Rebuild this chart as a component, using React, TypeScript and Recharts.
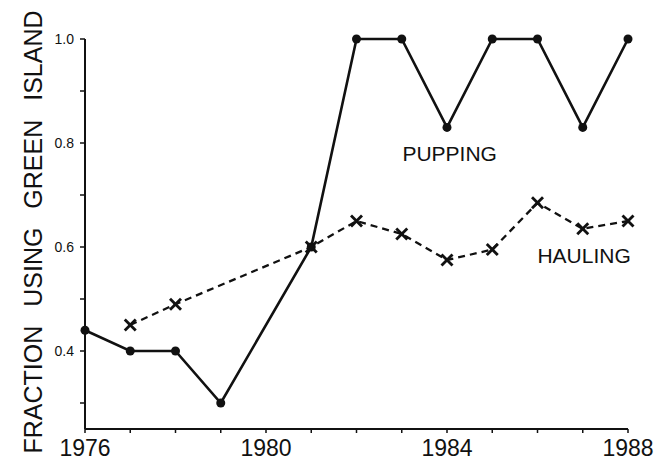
import { LineChart, Line, XAxis, YAxis, ReferenceDot } from "recharts";

const years = [1976, 1977, 1978, 1979, 1980, 1981, 1982, 1983, 1984, 1985, 1986, 1987, 1988];
const pupping = [0.44, 0.4, 0.4, 0.3, null, 0.6, 1.0, 1.0, 0.83, 1.0, 1.0, 0.83, 1.0];
const hauling = [null, 0.45, 0.49, null, null, 0.6, 0.65, 0.625, 0.575, 0.595, 0.685, 0.635, 0.65];
const yearLabels = [1976, 1980, 1984, 1988];
const fractionTicks = [0.3, 0.4, 0.5, 0.6, 0.7, 0.8, 0.9, 1.0];
const fractionLabels = [0.4, 0.6, 0.8, 1.0];

const data = years.map((year, i) => ({ year, pupping: pupping[i], hauling: hauling[i] }));

const FONT = '"Liberation Sans", Arial, Helvetica, sans-serif';
const INK = "#111";

function Cross(props: any) {
  const { cx, cy } = props;
  if (cx == null || cy == null || props.value == null) return null;
  const s = 5.5;
  return (
    <g stroke={INK} strokeWidth={2.8}>
      <line x1={cx - s} y1={cy - s} x2={cx + s} y2={cy + s} />
      <line x1={cx - s} y1={cy + s} x2={cx + s} y2={cy - s} />
    </g>
  );
}

function YTitle({ viewBox }: any) {
  const x = viewBox.x + viewBox.width - 52;
  const y = viewBox.y + viewBox.height / 2 - 2;
  return (
    <text
      x={x}
      y={y}
      transform={`rotate(-90, ${x}, ${y})`}
      textAnchor="middle"
      dominantBaseline="central"
      fontFamily={FONT}
      fontSize={25}
      fill={INK}
      style={{ wordSpacing: 12 }}
    >
      FRACTION USING GREEN ISLAND
    </text>
  );
}

export default function App() {
  return (
    <div style={{ position: "absolute", left: 0, top: 0, background: "#fff" }}>
      <LineChart width={669} height={460} data={data} margin={{ top: 39, right: 41, bottom: 1, left: 25 }}>
        <XAxis
          dataKey="year"
          type="number"
          domain={[1976, 1988]}
          ticks={years}
          interval={0}
          height={30}
          tickFormatter={(v: number) => (yearLabels.includes(v) ? String(v) : "")}
          tick={{ fontSize: 23, fontFamily: FONT, fill: INK }}
          tickSize={4}
          tickMargin={7}
          axisLine={{ stroke: INK, strokeWidth: 2 }}
          tickLine={{ stroke: INK, strokeWidth: 1.5 }}
        />
        <YAxis
          type="number"
          domain={[0.25, 1.0]}
          ticks={fractionTicks}
          interval={0}
          width={60}
          tickFormatter={(v: number) => (fractionLabels.some((f) => Math.abs(f - v) < 1e-6) ? v.toFixed(1) : "")}
          tick={{ fontSize: 14, fontFamily: FONT, fill: INK }}
          tickSize={5}
          tickMargin={6}
          axisLine={{ stroke: INK, strokeWidth: 2 }}
          tickLine={{ stroke: INK, strokeWidth: 1.5 }}
          label={{ content: YTitle }}
        />
        <Line
          dataKey="pupping"
          stroke={INK}
          strokeWidth={2.6}
          dot={{ r: 4.5, fill: INK, stroke: "none" }}
          connectNulls
          isAnimationActive={false}
        />
        <Line
          dataKey="hauling"
          stroke={INK}
          strokeWidth={2.3}
          strokeDasharray="7 5"
          dot={<Cross />}
          connectNulls
          isAnimationActive={false}
        />
        <ReferenceDot
          x={1984.06}
          y={0.779}
          r={0}
          stroke="none"
          label={{ value: "PUPPING", position: "center", fontSize: 21, fontFamily: FONT, fill: INK }}
        />
        <ReferenceDot
          x={1987.03}
          y={0.583}
          r={0}
          stroke="none"
          label={{ value: "HAULING", position: "center", fontSize: 21, fontFamily: FONT, fill: INK }}
        />
      </LineChart>
    </div>
  );
}
